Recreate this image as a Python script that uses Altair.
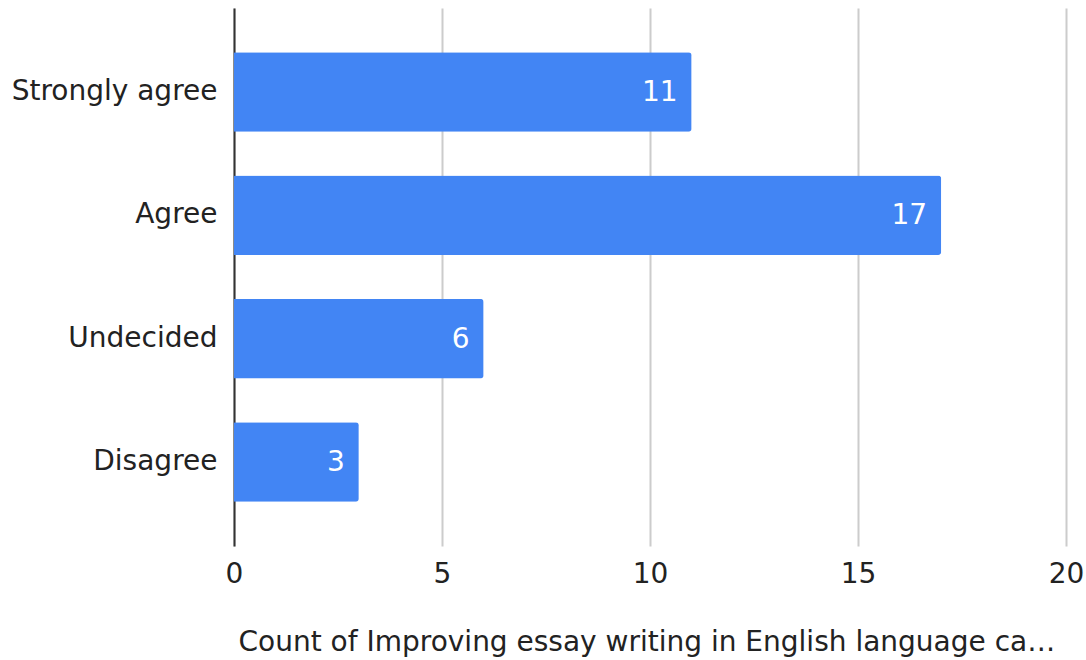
import altair as alt
import pandas as pd

categories = ["Strongly agree", "Agree", "Undecided", "Disagree"]
counts = [11, 17, 6, 3]
x_ticks = [0, 5, 10, 15, 20]
x_title = "Count of Improving essay writing in English language ca…"

df = pd.DataFrame({"response": categories, "count": counts})

FONT = "DejaVu Sans"
BLUE = "#4285F4"
SIZE = 28

base = alt.Chart(df).encode(
    y=alt.Y(
        "response:N",
        sort=categories,
        title=None,
        scale=alt.Scale(paddingInner=0.355, paddingOuter=0.36),
        axis=alt.Axis(
            labelFont=FONT,
            labelFontSize=SIZE,
            labelColor="#222222",
            labelPadding=17,
            labelLimit=0,
            ticks=False,
            domain=True,
            domainColor="#333333",
            domainWidth=2,
            grid=False,
        ),
    ),
    x=alt.X(
        "count:Q",
        title=x_title,
        scale=alt.Scale(domain=[0, 20], nice=False),
        axis=alt.Axis(
            values=x_ticks,
            labelFont=FONT,
            labelFontSize=SIZE,
            labelColor="#222222",
            labelPadding=14,
            labelFlush=False,
            ticks=False,
            domain=False,
            grid=True,
            gridColor="#cccccc",
            gridWidth=2,
            titleFont=FONT,
            titleFontSize=SIZE,
            titleFontWeight="normal",
            titleColor="#222222",
            titleAnchor="start",
            titleAlign="left",
            titleBaseline="alphabetic",
            titleX=4,
            titleY=104,
            titleLimit=0,
        ),
    ),
)

bars = base.mark_bar(color=BLUE, cornerRadiusEnd=3)

labels = base.mark_text(
    align="right",
    baseline="middle",
    dx=-14,
    dy=1,
    color="white",
    font=FONT,
    fontSize=SIZE,
).encode(text="count:Q")

chart = (
    alt.layer(bars, labels)
    .properties(
        width=832,
        height=538,
        background="white",
        autosize=alt.AutoSizeParams(type="none"),
        padding={"left": 234, "top": 8, "right": 20, "bottom": 114},
    )
    .configure_view(stroke=None)
)

chart.save("out.html", embed_options={"renderer": "svg", "actions": False})
